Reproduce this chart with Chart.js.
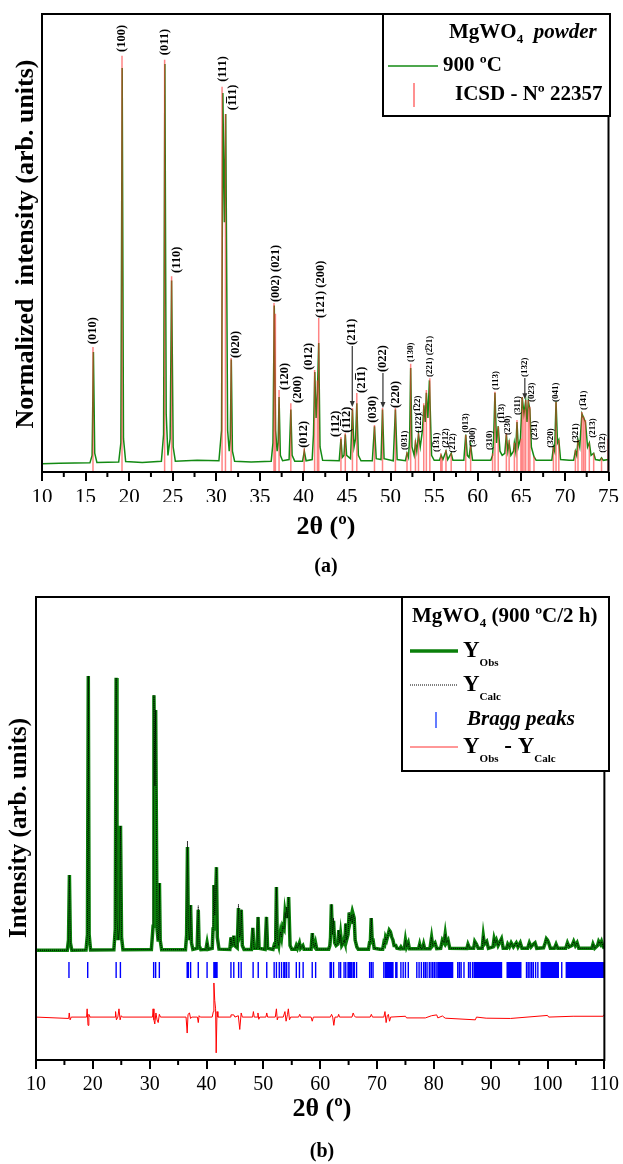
<!doctype html>
<html lang="en">
<head>
<meta charset="utf-8">
<title>MgWO4 XRD</title>
<script src="https://cdn.jsdelivr.net/npm/chart.js@4.4.1/dist/chart.umd.min.js"></script>
<style>
  body { margin: 0; background: #fff; }
  .panel { position: absolute; left: 0; width: 623px; }
  #top { top: 0; height: 580px; }
  #bottom { top: 580px; height: 584px; }
</style>
</head>
<body>
<div class="panel" id="top"><canvas id="xrd"></canvas></div>
<div class="panel" id="bottom"><canvas id="rietveld"></canvas></div>
<script>
// ---- (a) measured pattern, 900 C powder: [2theta, normalized intensity]
const obsA = [[10,2.0],[12,2.1],[15.5,2.2],[15.75,4],[15.9,28.8],[16.05,4.5],[16.3,2.3],
  [18.8,2.4],[19.05,7],[19.2,97],[19.35,8],[19.6,2.5],
  [21.5,2.3],[23.7,2.6],[23.95,9],[24.1,98],[24.25,14],[24.45,4],[24.7,8],[24.87,46],[25.05,6],[25.3,2.6],
  [27.8,2.8],[30.3,2.7],[30.6,10],[30.75,91],[30.93,60],[31.08,86],[31.3,10],[31.48,5],[31.6,8],[31.72,27],[31.85,5],[32.1,2.6],
  [34,2.4],[36.3,2.6],[36.5,7],[36.65,40],[36.8,10],[36.98,5],[37.1,7],[37.2,18],[37.35,4],[37.6,2.7],[38.35,3],[38.55,15],[38.7,4],[39,2.6],[39.9,2.6],[40.1,5],[40.3,2.7],
  [41.0,3],[41.15,9],[41.3,24],[41.45,13],[41.6,19],[41.75,31],[41.9,6],[42.2,2.8],
  [44.1,2.7],[44.3,8],[44.45,3.5],[44.65,4],[44.8,9],[44.95,4],[45.4,3.2],[45.62,15],[45.8,6],[45.98,8],[46.12,16.5],[46.3,4],[46.6,2.7],
  [47.9,2.7],[48.15,11],[48.35,3.2],[48.9,3],[49.07,15],[49.25,3.2],
  [50.3,2.7],[50.55,15],[50.75,3],
  [51.7,2.7],[51.88,4.5],[52.05,3.5],[52.18,8],[52.3,25],[52.45,6],[52.7,4],[52.85,7],[53.0,5],[53.2,9],[53.4,6],[53.65,10],[53.82,16],[53.97,12],[54.1,19],[54.28,13],[54.45,22],[54.7,4],[55.0,2.8],
  [55.6,2.8],[55.8,4],[56.0,3],[56.35,5],[56.55,3],[56.95,4.5],[57.15,2.8],
  [58.4,2.8],[58.62,9],[58.8,4],[59.0,3.5],[59.18,6.5],[59.4,2.8],
  [61.5,2.8],[61.7,4],[61.82,8],[61.97,19],[62.15,7],[62.35,11],[62.55,5],[62.8,4],[63.1,4.5],[63.28,9],[63.45,5],[63.6,7],[63.8,4],[64.1,5],[64.2,7],[64.35,5],[64.5,12],[64.65,6],[64.9,8],[65.1,18],[65.3,14],[65.5,17],[65.65,12],[65.8,17],[65.98,15],[66.15,6],[66.45,3.7],[66.7,2.8],
  [68.5,2.8],[68.68,6],[68.82,5],[68.98,17],[69.15,7],[69.3,7.7],[69.5,3],[70.5,2.8],
  [71.0,2.8],[71.2,5],[71.35,4],[71.5,7.7],[71.7,6],[71.95,14],[72.15,13],[72.35,12],[72.6,6],[72.8,7],[73.0,4],[73.3,4.5],[73.5,3],[74.0,2.8],[74.2,3.4],[74.4,2.8],[75,3]];

// ICSD 22357 reference lines
const icsdTheta = [15.85,19.18,24.07,24.87,30.66,31.05,31.7,36.62,36.78,37.2,38.55,40.08,41.28,41.6,41.75,44.3,44.8,45.62,46.12,48.15,49.07,50.55,51.88,52.3,52.85,53.2,53.8,54.1,54.5,55.75,55.9,56.35,56.95,58.62,59.18,61.7,61.97,62.35,63.28,63.6,64.2,64.5,64.95,65.1,65.3,65.5,65.8,65.98,66.45,68.68,68.98,69.3,71.2,71.5,71.95,72.15,72.35,72.8,73.3,74.2,74.95];
const icsdInt   = [30,100,99,47,92.5,86,27.4,40.6,38,19.7,16.5,5.7,24.5,22,37,8.4,9.3,15.4,19,11.3,15.4,15.4,4.8,26,7.7,9.3,16.5,19.7,22.5,4.5,3.5,5.3,4.5,8.9,6.5,4.5,19.3,10.9,9.3,7.7,7,12.5,8,18,15,17.3,17.3,15.7,3.7,6,16.8,7.7,5.3,7.7,14.4,13.3,12.5,7,4.5,3.4,8];

// Miller index labels: text, 2theta, intensity at text foot
const hklText = ['(100)','(011)','(111)','(1\u030511)','(010)','(110)','(020)','(002) (021)','(120)','(200)','(012)','(012)',
  '(121) (200)','(112)','(1\u030512)','(211)','(21\u03051)','(030)','(022)','(220)','(031)','(130)','(1\u030522)','(122)',
  '(221) (2\u030521)','(1\u030531)','(212)','(2\u030512)','(013)','(300)','(310)','(113)','(1\u030513)','(230)','(311)','(132)',
  '(023)','(231)','(320)','(041)','(321)','(1\u030541)','(213)','(3\u030512)'];
const hklTheta = [19.15,24.07,30.71,31.85,15.84,25.45,32.2,36.77,37.8,39.29,40.09,40.66,
  42.04,43.75,45.0,45.58,46.73,47.99,49.13,50.62,51.65,52.33,53.1,53.25,
  54.5,55.31,56.34,57.14,58.63,59.43,61.37,62.06,62.75,63.43,64.58,65.4,
  66.18,66.52,68.35,68.92,71.21,72.13,73.16,74.3];
const hklFoot = [100.9,100.1,93.7,86.9,30.7,47.8,27.4,40.8,19.7,16.6,5.8,24.5,
  37,8.4,9.4,30.5,19,11.8,24,15.4,5.3,26.4,13.7,9.4,
  22.8,4.8,5.8,4.6,9.4,6,5.3,19.7,11.8,8.9,13.7,22.8,
  16.8,7.7,5.8,16.8,7,14.9,8.2,4.6];
// arrows under (211), (022), (132)
const arrowTheta = [45.6, 49.12, 65.4];
const arrowFrom  = [30.5, 24, 22.8];
const arrowTo    = [15.6, 15.4, 17.5];

// ---- (b) Rietveld refinement, 900 C / 2 h
const obsB = [[10,0.3],[15.5,0.3],[15.72,4],[15.88,27.6],[16.05,3],[16.3,0.3],
  [18.8,0.4],[19.05,6],[19.2,100],[19.35,6],[19.6,0.4],
  [23.7,0.5],[23.95,8],[24.1,99.3],[24.25,12],[24.45,4],[24.7,8],[24.87,45.5],[25.05,5],[25.3,0.5],
  [30.3,0.6],[30.6,9],[30.75,93],[30.92,60],[31.05,87.6],[31.3,8],[31.48,4],[31.6,7],[31.72,24.7],[31.85,4],[32.1,0.5],
  [36.3,0.5],[36.5,6],[36.65,37.8],[36.8,9],[36.98,4],[37.1,6],[37.2,16.7],[37.35,3],[37.6,0.6],[38.35,1],[38.55,15],[38.7,2],[39,0.5],[39.9,0.6],[40.1,3],[40.3,0.6],
  [41.0,1],[41.15,8],[41.3,24],[41.45,13],[41.6,20],[41.75,30.5],[41.9,5],[42.2,0.7],
  [44.1,0.6],[44.3,5],[44.45,2],[44.65,2.5],[44.8,5.6],[44.95,2],[45.4,1.2],[45.62,15.6],[45.8,5],[45.98,6],[46.12,15],[46.3,2],[46.6,0.6],
  [47.9,0.6],[48.15,8.4],[48.35,1],[48.9,1],[49.07,12.4],[49.25,1],
  [50.3,0.6],[50.55,12.4],[50.75,1],
  [51.7,0.6],[51.88,2],[52.05,1.5],[52.18,6],[52.3,23.3],[52.45,4],[52.7,2],[52.85,5],[53.0,7],[53.2,5],[53.4,9],[53.65,8],[53.82,14],[53.97,12],[54.1,16],[54.28,12],[54.45,19.6],[54.7,2],[55.0,0.7],
  [55.6,0.7],[55.8,2],[56.0,1],[56.35,3],[56.55,1],[56.95,2],[57.15,0.7],
  [58.4,0.7],[58.62,6.5],[58.8,2],[59.0,1.5],[59.18,3],[59.4,0.7],
  [61.5,0.7],[61.7,2],[61.82,5],[61.97,17],[62.15,6],[62.35,11],[62.55,3],[62.8,2],[63.1,2.5],[63.28,7.6],[63.45,3],[63.6,6],[63.8,2],[64.1,3],[64.2,4],[64.35,3],[64.5,10],[64.65,4],[64.9,6],[65.1,14],[65.3,11],[65.5,13],[65.65,10],[65.8,13.4],[65.98,12],[66.15,4],[66.45,1.5],[66.7,0.7],
  [68.5,0.7],[68.68,3],[68.82,3],[68.98,12],[69.15,4],[69.3,4],[69.5,1],[70.5,0.7],
  [71.0,0.7],[71.2,3],[71.35,2.5],[71.5,5],[71.7,4],[71.95,6],[72.15,7.6],[72.35,7],[72.6,5],[72.8,4],[73.0,2],[73.3,2],[73.5,1],[74.0,0.8],[74.2,1.5],[74.4,0.8],
  [74.8,0.8],[75.0,4],[75.2,1.5],[75.5,3],[75.7,0.8],[77.3,0.8],[77.5,2.5],[77.7,0.8],[78.0,0.8],[78.2,2.5],[78.4,0.8],[79.3,0.8],[79.6,5],[79.8,2],[80.2,3],[80.5,0.9],
  [81.2,1],[81.5,4],[81.8,3],[82.0,6.2],[82.2,3],[82.5,4],[82.8,1],[85.8,0.9],[86.0,2.5],[86.3,1],[87.0,1],[87.2,3.5],[87.5,2.5],[87.8,1],
  [88.5,1],[88.7,5.5],[88.9,2.5],[89.3,3.5],[89.6,1],[90.4,1.5],[90.6,4.5],[90.8,3],[91.0,4],[91.3,2],[91.9,4.5],[92.2,1],
  [92.8,1],[93.0,2.5],[93.3,1.5],[93.6,3],[94.0,1.5],[94.5,3],[94.8,1.5],[95.2,3],[95.5,1],
  [96.5,1],[96.8,3],[97.1,1.5],[97.5,2.5],[97.8,3],[98.1,1],[99.3,1.2],[99.6,3],[99.8,4.5],[100.0,4],[100.2,3],[100.5,1],[101.2,1],[101.5,2.5],[101.8,1],
  [103.2,1],[103.5,3],[103.8,1.5],[104.3,2],[104.6,3.5],[104.9,2],[105.2,3],[105.5,1],[107.8,1],[108.0,2.5],[108.3,1],[108.8,2],[109.0,3.5],[109.3,2.5],[109.5,3.5],[109.8,1.5],[110,1]];
// calculated profile where it stands off the observed one
const calcTops = [[36.65,40],[38.55,16.5],[45.62,17],[62.35,12]];
// Yobs - Ycalc
const diffB = [[10,0],[15.75,-0.5],[15.85,1.5],[16.0,-1],[16.2,0],[18.9,0],[19.0,3],[19.15,-3],[19.3,1],[19.5,0],[23.9,0],[24.0,2],[24.15,-1],[24.4,0],[24.6,3],[24.8,-1],[25.0,0.5],[25.2,0],
  [30.5,0],[30.6,3],[30.75,-1],[30.9,-2.5],[31.1,1.5],[31.3,-1],[31.5,-2],[31.7,1],[31.9,0],
  [36.4,0],[36.6,-5.8],[36.75,1],[37.0,1.5],[37.2,-0.5],[37.4,0],[38.4,0],[38.55,-2],[38.7,0.5],[38.9,0],
  [41.0,0],[41.2,2],[41.3,12.4],[41.45,6],[41.6,3],[41.7,-13],[41.85,2],[42.0,0],
  [44.2,0],[44.3,0.8],[44.8,0.8],[45.0,0],[45.6,0.5],[45.85,-4.5],[46.1,1.5],[46.3,0],
  [48.1,0],[48.25,2],[48.4,0],[48.9,0],[49.05,1.5],[49.2,-0.8],[49.35,0],[50.45,0],[50.6,1.5],[50.75,0],
  [52.1,0],[52.3,3],[52.45,-1],[52.6,0],[53.5,0],[53.8,2],[54.0,-1.5],[54.25,1],[54.4,3],[54.6,-1],[54.8,0],
  [56.2,0],[56.4,1],[56.6,0],[58.4,0],[58.6,-1.5],[58.8,0],
  [61.8,0],[62.0,1],[62.2,0],[62.4,-3],[62.6,0],[63.1,0],[63.25,1],[63.4,0],[65.6,0],[65.8,1.5],[66.0,0.5],[66.2,0],
  [68.8,0],[69.0,1],[69.2,0],
  [71.2,0],[71.4,2],[71.6,-2],[71.8,0.5],[72.0,1],[72.2,-1.5],[72.4,0],
  [75.0,0.3],[75.2,-0.3],[78.5,-0.3],[79.6,0.5],[80.5,0.8],[80.7,-0.3],[81.5,0.4],[82,-0.4],[87.3,-1],[87.5,0],[89.2,-0.4],[93.5,-0.5],[100,0.6],[100.2,0],[104.5,0.3],[109.8,0.3],[110,1]];
// Bragg reflection positions
const braggTheta = [15.8,19.1,24.1,24.85,30.7,31.05,31.7,36.6,36.8,37.2,38.55,40.1,41.3,41.45,41.6,41.75,41.85,44.3,44.8,45.65,46.1,48.2,49.1,50.6,
  51.9,52.3,52.8,53.2,53.6,53.8,54.1,54.5,55.8,56.35,57.0,58.6,59.2,61.75,61.95,62.35,63.3,63.6,64.2,64.5,64.9,65.1,65.3,65.5,65.8,66.0,66.4,
  68.7,69.0,69.3,71.2,71.5,71.7,71.95,72.15,72.35,72.6,72.8,73.3,73.5,74.2,74.6,75.0,75.5,77.0,77.4,77.8,78.2,78.5,78.8,79.2,79.5,79.8,80.1,
  80.4,80.7,80.9,81.1,81.3,81.5,81.7,81.9,82.1,82.3,82.5,82.7,82.9,83.1,83.3,84.2,84.5,84.8,85.3,86.1,86.4,86.8,87.1,87.3,87.5,87.7,87.9,
  88.1,88.3,88.5,88.7,88.9,89.1,89.3,89.5,89.7,89.9,90.1,90.3,90.5,90.7,90.9,91.1,91.3,91.5,91.7,91.9,92.9,93.1,93.3,93.5,93.7,93.9,94.1,
  94.3,94.5,94.7,94.9,95.1,95.3,96.3,96.6,96.9,97.2,97.5,97.9,98.3,98.9,99.1,99.3,99.5,99.7,99.9,100.1,100.3,100.5,100.7,100.9,101.1,101.3,
  101.5,101.7,101.9,102.5,103.3,103.5,103.7,103.9,104.1,104.3,104.5,104.7,104.9,105.1,105.3,105.5,105.7,105.9,106.1,106.3,106.5,106.7,
  106.9,107.1,107.3,107.5,107.7,107.9,108.1,108.3,108.5,108.7,108.9,109.1,109.3,109.5,109.7,109.9];

const SERIF = "'Liberation Serif', 'Times New Roman', serif";
const bold = n => 'bold ' + n + 'px ' + SERIF;
const boldIt = n => 'italic bold ' + n + 'px ' + SERIF;

const toXY = pts => pts.map(p => ({ x: p[0], y: p[1] }));
function sticks(xs, tops, lows) {
  const out = [];
  xs.forEach((x, i) => {
    out.push({ x: x, y: Array.isArray(lows) ? lows[i] : lows });
    out.push({ x: x, y: Array.isArray(tops) ? tops[i] : tops });
    out.push({ x: x, y: null });
  });
  return out;
}
function line(ctx, x1, y1, x2, y2) {
  ctx.beginPath(); ctx.moveTo(x1, y1); ctx.lineTo(x2, y2); ctx.stroke();
}
function runs(ctx, x, y, parts) {
  parts.forEach(p => {
    ctx.font = p[1];
    ctx.fillText(p[0], x, y + (p[2] || 0));
    x += ctx.measureText(p[0]).width;
  });
  return x;
}
function frameAndMinor(chart, minors) {
  const { ctx, chartArea: a, scales: { x } } = chart;
  ctx.strokeStyle = '#000';
  ctx.lineWidth = 2;
  minors.forEach(v => {
    const px = x.getPixelForValue(v);
    line(ctx, px, a.bottom, px, a.bottom + 5);
  });
  ctx.strokeRect(a.left, a.top, a.right - a.left, a.bottom - a.top);
}

const topDecor = {
  id: 'topDecor',
  afterDraw(chart) {
    const { ctx, scales: { x, y } } = chart;
    ctx.save();
    const minors = [];
    for (let v = 12.5; v < 75; v += 5) minors.push(v);
    frameAndMinor(chart, minors);

    // hkl labels, rotated
    ctx.fillStyle = '#000';
    ctx.textAlign = 'left';
    ctx.textBaseline = 'middle';
    hklText.forEach((t, i) => {
      ctx.save();
      ctx.translate(x.getPixelForValue(hklTheta[i]), y.getPixelForValue(hklFoot[i]));
      ctx.rotate(-Math.PI / 2);
      ctx.font = bold(hklTheta[i] < 51.5 ? 12.5 : 9);
      ctx.fillText(t, 0, 0);
      ctx.restore();
    });
    // arrows
    ctx.strokeStyle = '#333';
    ctx.fillStyle = '#333';
    ctx.lineWidth = 1.2;
    arrowTheta.forEach((v, i) => {
      const px = x.getPixelForValue(v);
      const y1 = y.getPixelForValue(arrowFrom[i]) + 1;
      const y2 = y.getPixelForValue(arrowTo[i]);
      line(ctx, px, y1, px, y2 - 5);
      ctx.beginPath();
      ctx.moveTo(px - 2.5, y2 - 6); ctx.lineTo(px + 2.5, y2 - 6); ctx.lineTo(px, y2);
      ctx.closePath(); ctx.fill();
    });

    // legend
    ctx.fillStyle = '#fff';
    ctx.fillRect(383, 14, 227, 102);
    ctx.strokeStyle = '#000';
    ctx.lineWidth = 2;
    ctx.strokeRect(383, 14, 227, 102);
    ctx.fillStyle = '#000';
    runs(ctx, 449, 33, [['MgWO', bold(21)], ['4', bold(13), 7], ['  ', bold(21)], ['powder', boldIt(21)]]);
    ctx.strokeStyle = '#138a13';
    ctx.lineWidth = 1.5;
    line(ctx, 388, 66, 438, 66);
    runs(ctx, 443, 66, [['900 \u00baC', bold(21)]]);
    ctx.strokeStyle = 'rgba(255,60,60,0.75)';
    line(ctx, 414, 83, 414, 107);
    runs(ctx, 455, 95, [['ICSD - N\u00ba 22357', bold(21)]]);

    // axis titles
    ctx.textAlign = 'center';
    ctx.font = bold(26);
    ctx.fillText('2\u03b8 (\u00ba)', 326, 527);
    ctx.font = bold(20);
    ctx.fillText('(a)', 326, 567);
    ctx.translate(26, 244);
    ctx.rotate(-Math.PI / 2);
    ctx.font = bold(26);
    ctx.fillText('Normalized  intensity (arb. units)', 0, 0);
    ctx.restore();
  }
};

const bottomDecor = {
  id: 'bottomDecor',
  afterDraw(chart) {
    const { ctx } = chart;
    ctx.save();
    frameAndMinor(chart, [15, 25, 35, 45, 55, 65, 75, 85, 95, 105]);

    // legend
    ctx.fillStyle = '#fff';
    ctx.fillRect(402, 17, 207, 174);
    ctx.strokeStyle = '#000';
    ctx.lineWidth = 2;
    ctx.strokeRect(402, 17, 207, 174);
    ctx.fillStyle = '#000';
    ctx.textAlign = 'left';
    ctx.textBaseline = 'middle';
    runs(ctx, 412, 37, [['MgWO', bold(21)], ['4', bold(13), 7], [' (900 \u00baC/2 h)', bold(21)]]);

    ctx.strokeStyle = '#0a7f0a'; ctx.lineWidth = 3.5;
    line(ctx, 410, 71, 458, 71);
    runs(ctx, 463, 71, [['Y', bold(23)], ['Obs', bold(11), 12]]);

    ctx.strokeStyle = '#000'; ctx.lineWidth = 1; ctx.setLineDash([1, 1]);
    line(ctx, 410, 105, 458, 105);
    ctx.setLineDash([]);
    runs(ctx, 463, 105, [['Y', bold(23)], ['Calc', bold(11), 12]]);

    ctx.strokeStyle = '#3050ff'; ctx.lineWidth = 1.5;
    line(ctx, 436, 132, 436, 148);
    runs(ctx, 467, 140, [['Bragg peaks', boldIt(21)]]);

    ctx.strokeStyle = '#ff3030'; ctx.lineWidth = 1;
    line(ctx, 410, 167, 458, 167);
    runs(ctx, 463, 167, [['Y', bold(23)], ['Obs', bold(11), 12], [' - ', bold(23)], ['Y', bold(23)], ['Calc', bold(11), 12]]);

    // axis titles
    ctx.textAlign = 'center';
    ctx.font = bold(26);
    ctx.fillText('2\u03b8 (\u00ba)', 322, 529);
    ctx.font = bold(20);
    ctx.fillText('(b)', 322, 572);
    ctx.translate(20, 248);
    ctx.rotate(-Math.PI / 2);
    ctx.font = bold(25);
    ctx.fillText('Intensity (arb. units)', 0, 0);
    ctx.restore();
  }
};

function xAxis(min, max, step, size) {
  return {
    type: 'linear', min: min, max: max,
    afterFit: s => { s.height = 30; },
    ticks: { stepSize: step, autoSkip: false, maxRotation: 0, padding: 4, color: '#000',
             font: { family: SERIF, size: size } },
    grid: { drawOnChartArea: false, tickLength: 9, color: '#000', lineWidth: 2 },
    border: { display: false }
  };
}
const common = {
  animation: false,
  responsive: true,
  maintainAspectRatio: false,
  events: [],
  elements: { point: { radius: 0 }, line: { tension: 0 } },
  plugins: { legend: { display: false }, tooltip: { enabled: false } }
};

new Chart(document.getElementById('xrd'), {
  type: 'line',
  data: {
    datasets: [
      { data: sticks(icsdTheta, icsdInt, 0), borderColor: 'rgba(255,50,50,0.6)', borderWidth: 1.5, spanGaps: false },
      { data: toXY(obsA), borderColor: '#138a13', borderWidth: 1.5 }
    ]
  },
  options: Object.assign({}, common, {
    layout: { padding: { left: 42, right: 13, top: 14, bottom: 78 } },
    scales: { x: xAxis(10, 75, 5, 21), y: { display: false, min: 0, max: 110 } }
  }),
  plugins: [topDecor]
});

const calcB = obsB.map(p => {
  const hit = calcTops.find(c => c[0] === p[0]);
  return hit ? hit : p;
});
const diffOffset = -24;

new Chart(document.getElementById('rietveld'), {
  type: 'line',
  data: {
    datasets: [
      { data: toXY(calcB), borderColor: '#000', borderWidth: 1, borderDash: [1, 1] },
      { data: toXY(obsB), borderColor: '#0a7f0a', borderWidth: 3.5 },
      { data: sticks(braggTheta, -4, -9.8), borderColor: '#0000ff', borderWidth: 1.4, spanGaps: false },
      { data: diffB.map(p => ({ x: p[0], y: p[1] + diffOffset })), borderColor: '#ff0000', borderWidth: 1 }
    ]
  },
  options: Object.assign({}, common, {
    layout: { padding: { left: 36, right: 15, top: 17, bottom: 74 } },
    scales: { x: xAxis(10, 110, 10, 20), y: { display: false, min: -39.6, max: 128.7 } }
  }),
  plugins: [bottomDecor]
});
</script>
</body>
</html>
